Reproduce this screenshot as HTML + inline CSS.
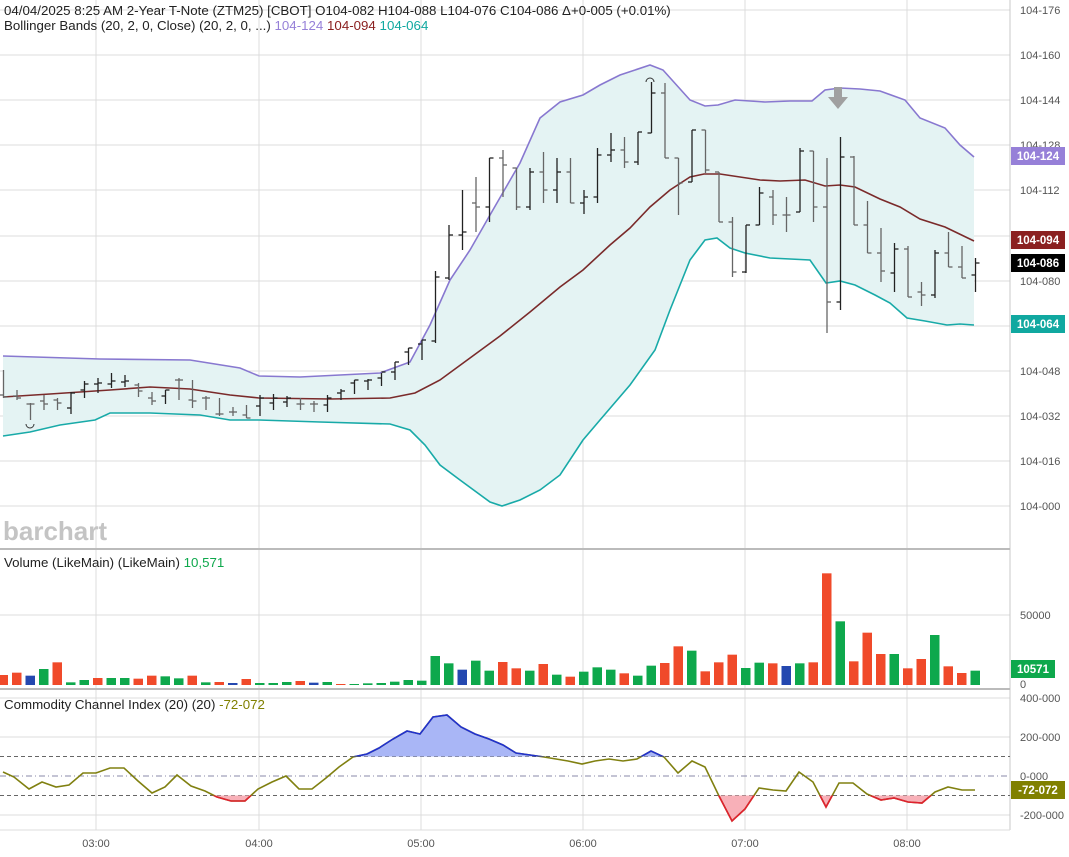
<!DOCTYPE html>
<html><head><meta charset="utf-8"><style>
html,body{margin:0;padding:0;background:#fff;width:1069px;height:857px;overflow:hidden}
svg{display:block;font-family:"Liberation Sans",sans-serif}
</style></head><body>
<svg id="s" width="1069" height="857" xmlns="http://www.w3.org/2000/svg"></svg>
<script>
const S=document.getElementById('s');let h='';
const X=i=>3+13.5*i;
[10,55,100,145,190,236,281,326,371,416,461,506].forEach(y=>h+=`<line x1="0" x2="1010" y1="${y}" y2="${y}" stroke="#dcdcdc"/>`);
h+=`<line x1="0" x2="1010" y1="615" y2="615" stroke="#dcdcdc"/>`;
[698,737,815].forEach(y=>h+=`<line x1="0" x2="1010" y1="${y}" y2="${y}" stroke="#dcdcdc"/>`);
[96,259,421,583,745,907].forEach(x=>h+=`<line x1="${x}" x2="${x}" y1="0" y2="830" stroke="#dcdcdc"/>`);
h+=`<line x1="1010" x2="1010" y1="0" y2="830" stroke="#c8c8c8"/>`;
h+=`<line x1="0" x2="1010" y1="549" y2="549" stroke="#bbb" stroke-width="2"/><line x1="0" x2="1010" y1="689" y2="689" stroke="#bbb" stroke-width="2"/><line x1="0" x2="1010" y1="830" y2="830" stroke="#ddd"/>`;
const up=[[3,356],[100,359],[190,360],[240,368],[259,376],[300,377],[380,373],[410,362],[430,325],[450,280],[470,250],[490,215],[520,163],[540,118],[560,102],[583,95],[600,85],[620,75],[650,65],[663,70],[690,100],[705,106],[718,105],[735,100],[765,102],[790,101],[812,101],[825,90],[840,88],[860,89],[880,91],[905,100],[920,118],[945,128],[960,145],[974,157]];
const mid=[[3,397],[50,394],[110,390],[150,387],[190,389],[230,395],[259,398],[330,399],[390,398],[415,393],[440,380],[470,358],[500,336],[530,312],[560,287],[583,270],[610,245],[630,228],[650,207],[670,190],[690,177],[704,174],[720,174],[760,180],[780,181],[805,180],[825,186],[840,185],[855,187],[880,199],[900,207],[920,219],[945,227],[974,241]];
const lo=[[3,436],[30,432],[60,425],[95,420],[110,413],[150,413],[200,415],[230,420],[259,420],[320,422],[390,424],[410,430],[425,445],[440,465],[460,480],[490,502],[502,506],[520,500],[540,490],[560,475],[583,440],[600,420],[630,385],[655,350],[670,310],[690,260],[705,240],[717,238],[730,248],[745,253],[770,258],[810,260],[826,283],[840,281],[855,285],[875,295],[890,303],[907,318],[925,321],[947,325],[960,324],[974,325]];
const pts=a=>a.map(p=>p.join(',')).join(' ');
h+=`<polygon points="${pts(up)} ${pts(lo.slice().reverse())}" fill="#e4f3f3"/>`;
h+=`<polyline points="${pts(up)}" fill="none" stroke="#8878d0" stroke-width="1.6"/>`;
h+=`<polyline points="${pts(mid)}" fill="none" stroke="#7a2a2a" stroke-width="1.6"/>`;
h+=`<polyline points="${pts(lo)}" fill="none" stroke="#18aaa8" stroke-width="1.6"/>`;
const B=[[370,398,395,397],[390,400,396,398],[403,420,404,404],[395,410,401,404],[398,410,400,403],[392,414,408,393],[381,398,390,384],[378,393,384,383],[373,388,384,381],[375,387,382,381],[383,397,385,391],[392,405,398,401],[390,404,396,390],[378,400,380,380],[380,408,400,401],[396,410,398,398],[398,416,414,414],[407,416,412,412],[405,418,415,418],[395,416,406,398],[394,410,403,398],[396,407,402,398],[398,410,404,404],[401,412,404,404],[395,412,405,398],[389,400,393,391],[380,394,383,380],[379,390,381,380],[373,386,378,372],[362,380,372,362],[348,365,352,348],[340,360,344,340],[271,343,341,277],[225,280,278,235],[190,250,235,232],[177,232,203,207],[158,222,207,158],[150,197,158,165],[168,210,168,207],[168,210,207,172],[152,203,172,190],[158,203,190,172],[158,203,172,203],[190,214,203,197],[148,203,197,155],[133,162,155,150],[137,168,150,162],[132,165,162,132],[82,133,133,93],[83,158,93,158],[158,215,158,183],[130,182,182,130],[130,173,130,170],[172,222,172,222],[217,277,222,272],[225,273,272,225],[187,225,225,193],[190,225,197,215],[197,232,215,215],[148,212,212,151],[151,222,151,207],[158,333,207,302],[137,310,302,157],[156,225,157,225],[201,253,225,253],[228,282,253,271],[243,292,273,249],[246,297,249,297],[282,306,292,295],[250,298,295,253],[232,267,253,267],[246,278,267,278],[258,292,275,263]];
B.forEach((b,i)=>{const x=X(i)+.5;const c=b[3]<b[2]?'#222':'#666';
h+=`<line x1="${x}" x2="${x}" y1="${b[0]}" y2="${b[1]}" stroke="${c}" stroke-width="1.3"/><line x1="${x-4}" x2="${x}" y1="${b[2]}" y2="${b[2]}" stroke="${c}" stroke-width="1.3"/><line x1="${x}" x2="${x+4}" y1="${b[3]}" y2="${b[3]}" stroke="${c}" stroke-width="1.3"/>`;});
h+=`<path d="M26,424 a4,4 0 0 0 8,0" fill="none" stroke="#333"/><path d="M646,82 a4,4 0 0 1 8,0" fill="none" stroke="#333"/>`;
h+=`<path d="M834,87 h8 v10 h6 l-10,12 l-10,-12 h6z" fill="#a0a0a0"/>`;
const vz=[373,366,375,355,335,395,388,382,382,382,384,375,377,383,375,395,394,397,385,397,397,394,391,396,394,400,401,398,397,393,388,390,316,338,357,330,360,334,353,360,340,372,378,363,350,357,368,375,345,337,287,300,362,335,312,352,336,338,346,338,335,68,212,332,246,310,310,353,325,253,347,367,360];
const vcs="rrbgrggrggrrggrgrbrgggrbgrggggggggbggrrg"+"rgrgggrggrrgrrrggrbgrrgrrrgrrgrrg";
const col={r:'#f04a2a',g:'#0ea84c',b:'#2448b0'};
vz.forEach((z,i)=>{const ht=Math.max(1,(403-z)/3);h+=`<rect x="${X(i)-4.5}" y="${685-ht}" width="9.5" height="${ht}" fill="${col[vcs[i]]}"/>`;});
const cci=[[3,772],[14,777],[29,789],[42,782],[56,787],[69,785],[83,773],[96,773],[110,768],[124,768],[138,781],[152,793],[165,787],[177,775],[191,786],[205,791],[217,797],[231,801],[245,801],[258,789],[272,782],[286,776],[299,789],[312,789],[326,778],[339,767],[353,757],[367,754],[379,748],[393,739],[407,731],[420,734],[433,717],[447,715],[461,727],[475,734],[489,739],[503,745],[516,753],[530,755],[544,757],[556,759],[568,761],[582,764],[595,761],[609,759],[623,761],[637,759],[651,751],[664,757],[678,773],[692,761],[705,767],[719,796],[732,821],[745,809],[759,788],[773,790],[786,791],[799,772],[813,782],[826,807],[839,783],[853,783],[867,794],[881,800],[894,798],[908,802],[922,803],[935,792],[948,787],[962,790],[975,790]];
h+=`<defs><clipPath id="ca"><rect x="0" y="690" width="1010" height="66.5"/></clipPath><clipPath id="cb"><rect x="0" y="795.5" width="1010" height="40"/></clipPath></defs>`;
h+=`<line x1="0" x2="1010" y1="756.5" y2="756.5" stroke="#666" stroke-dasharray="4,3"/><line x1="0" x2="1010" y1="795.5" y2="795.5" stroke="#666" stroke-dasharray="4,3"/><line x1="0" x2="1010" y1="776" y2="776" stroke="#8888aa" stroke-dasharray="6,3,1,3"/>`;
h+=`<polygon points="3,756.5 ${pts(cci)} 975,756.5" fill="#a9b6f6" clip-path="url(#ca)"/>`;
h+=`<polygon points="3,795.5 ${pts(cci)} 975,795.5" fill="#f8b0b8" clip-path="url(#cb)"/>`;
h+=`<polyline points="${pts(cci)}" fill="none" stroke="#808010" stroke-width="1.6"/>`;
h+=`<polyline points="${pts(cci)}" fill="none" stroke="#2030d0" stroke-width="1.6" clip-path="url(#ca)"/>`;
h+=`<polyline points="${pts(cci)}" fill="none" stroke="#e02030" stroke-width="1.6" clip-path="url(#cb)"/>`;
const pl=[[10,'104-176'],[55,'104-160'],[100,'104-144'],[145,'104-128'],[190,'104-112'],[281,'104-080'],[371,'104-048'],[416,'104-032'],[461,'104-016'],[506,'104-000']];
pl.forEach(p=>h+=`<text x="1020" y="${p[0]+4}" font-size="11" fill="#555">${p[1]}</text>`);
h+=`<text x="1020" y="619" font-size="11" fill="#555">50000</text><text x="1020" y="688" font-size="11" fill="#555">0</text>`;
[[698,'400-000'],[737,'200-000'],[776,'0-000'],[815,'-200-000']].forEach(p=>h+=`<text x="1020" y="${p[0]+4}" font-size="11" fill="#555">${p[1]}</text>`);
[[96,'03:00'],[259,'04:00'],[421,'05:00'],[583,'06:00'],[745,'07:00'],[907,'08:00']].forEach(p=>h+=`<text x="${p[0]}" y="847" font-size="11" fill="#555" text-anchor="middle">${p[1]}</text>`);
const tag=(y,c,t,w)=>h+=`<rect x="1011" y="${y}" width="${w||54}" height="18" fill="${c}"/><text x="${1011+(w||54)/2}" y="${y+13}" font-size="11.5" font-weight="bold" fill="#fff" text-anchor="middle">${t}</text>`;
tag(147,'#9680d8','104-124');tag(231,'#8b2020','104-094');tag(254,'#000','104-086');tag(315,'#10a8a0','104-064');tag(660,'#0ea84c','10571',44);tag(781,'#808000','-72-072');
h+=`<text x="4" y="15" font-size="13.3" fill="#222">04/04/2025  8:25 AM 2-Year T-Note (ZTM25) [CBOT] O104-082 H104-088 L104-076 C104-086 Δ+0-005 (+0.01%)</text>`;
h+=`<text x="4" y="30" font-size="13.3" fill="#222">Bollinger Bands (20, 2, 0, Close)  (20, 2, 0, ...) <tspan fill="#9680d8">104-124</tspan> <tspan fill="#8b2020">104-094</tspan> <tspan fill="#10a8a0">104-064</tspan></text>`;
h+=`<text x="4" y="567" font-size="13.3" fill="#222">Volume (LikeMain)  (LikeMain) <tspan fill="#0ea84c">10,571</tspan></text>`;
h+=`<text x="4" y="709" font-size="13.3" fill="#222">Commodity Channel Index (20)  (20) <tspan fill="#808000">-72-072</tspan></text>`;
h+=`<text x="3" y="540" font-size="26" font-weight="bold" fill="#c4c4c4">barchart</text>`;
S.innerHTML=h;
</script>
</body></html>
